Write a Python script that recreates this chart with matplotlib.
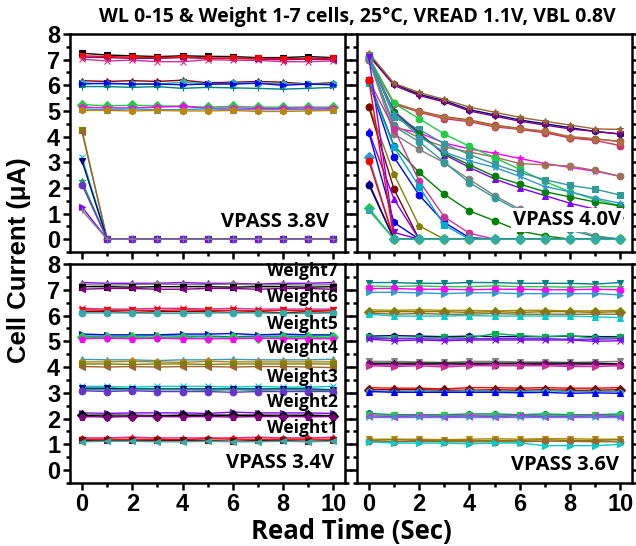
#%% Importing libraries

import numpy as np
import matplotlib
matplotlib.use('Agg')
from matplotlib import pyplot as plt
from matplotlib.ticker import MultipleLocator

#%% Data (cell current in uA vs read time in s)

t = [0, 1, 2, 3, 4, 5, 6, 7, 8, 9, 10]

# VPASS 3.8V : weights 5-7 stay, weights 1-4 collapse after the first read
cells_38 = [
    [7.25, 7.18, 7.15, 7.12, 7.15, 7.13, 7.12, 7.08, 7.08, 7.12, 7.08],
    [7.10, 7.08, 7.05, 7.05, 7.08, 7.05, 7.05, 7.02, 7.00, 7.02, 7.00],
    [7.02, 6.95, 6.98, 6.92, 6.92, 7.00, 6.98, 6.97, 6.92, 6.92, 6.95],
    [7.15, 7.12, 7.10, 7.08, 7.10, 7.06, 7.06, 7.05, 7.04, 7.04, 7.05],
    [6.18, 6.15, 6.18, 6.15, 6.20, 6.10, 6.12, 6.15, 6.12, 6.05, 6.10],
    [6.10, 6.05, 6.05, 6.05, 6.12, 6.05, 6.08, 6.08, 6.05, 6.05, 6.05],
    [6.05, 6.08, 6.05, 6.05, 6.02, 6.05, 6.05, 6.08, 6.00, 6.05, 6.02],
    [5.95, 5.95, 5.92, 5.95, 5.88, 5.92, 5.90, 5.88, 5.85, 5.88, 5.92],
    [5.25, 5.20, 5.22, 5.20, 5.18, 5.15, 5.18, 5.15, 5.15, 5.15, 5.15],
    [5.15, 5.12, 5.12, 5.15, 5.18, 5.10, 5.12, 5.10, 5.10, 5.12, 5.10],
    [5.08, 5.05, 5.08, 5.05, 5.05, 5.08, 5.05, 5.05, 5.05, 5.05, 5.05],
    [5.02, 5.02, 5.00, 5.02, 5.00, 5.00, 5.02, 4.98, 4.98, 5.00, 5.02],
    [4.25, 0, 0, 0, 0, 0, 0, 0, 0, 0, 0],
    [4.18, 0, 0, 0, 0, 0, 0, 0, 0, 0, 0],
    [3.20, 0, 0, 0, 0, 0, 0, 0, 0, 0, 0],
    [3.05, 0, 0, 0, 0, 0, 0, 0, 0, 0, 0],
    [2.25, 0, 0, 0, 0, 0, 0, 0, 0, 0, 0],
    [2.12, 0, 0, 0, 0, 0, 0, 0, 0, 0, 0],
    [1.25, 0, 0, 0, 0, 0, 0, 0, 0, 0, 0],
    [1.12, 0, 0, 0, 0, 0, 0, 0, 0, 0, 0],
]

# VPASS 4.0V : decay of the cells
cells_40 = [
    [7.20, 6.05, 5.65, 5.40, 5.05, 4.85, 4.65, 4.50, 4.35, 4.20, 4.10],
    [7.15, 6.00, 5.60, 5.35, 5.00, 4.80, 4.60, 4.45, 4.30, 4.20, 4.10],
    [7.25, 6.08, 5.72, 5.45, 5.15, 4.95, 4.75, 4.60, 4.45, 4.30, 4.28],
    [7.10, 5.30, 5.00, 4.78, 4.65, 4.45, 4.32, 4.20, 3.95, 3.90, 3.82],
    [7.05, 5.28, 4.95, 4.70, 4.58, 4.38, 4.28, 4.15, 3.95, 3.85, 3.65],
    [7.00, 5.32, 4.98, 4.75, 4.62, 4.42, 4.30, 4.22, 4.00, 3.92, 3.80],
    [7.05, 4.35, 4.15, 3.75, 3.52, 3.35, 3.15, 2.95, 2.80, 2.65, 2.45],
    [7.00, 4.45, 3.95, 3.60, 3.40, 3.20, 2.95, 2.90, 2.85, 2.68, 2.45],
    [7.10, 5.30, 4.70, 4.10, 3.62, 3.18, 2.72, 2.25, 1.85, 1.55, 1.30],
    [7.15, 4.75, 4.28, 3.72, 3.30, 2.92, 2.60, 2.32, 2.10, 1.95, 1.72],
    [7.05, 5.00, 4.15, 3.30, 2.80, 2.35, 2.00, 1.70, 1.40, 1.17, 0.95],
    [7.00, 4.95, 4.10, 3.35, 2.90, 2.45, 2.15, 1.85, 1.65, 1.45, 1.30],
    [7.10, 4.90, 4.00, 3.40, 3.05, 2.80, 2.45, 2.05, 1.85, 1.60, 1.40],
    [7.00, 4.10, 3.50, 2.98, 2.33, 1.70, 1.17, 0.80, 0.45, 0.13, 0.00],
    [7.10, 4.40, 3.80, 3.00, 2.20, 1.62, 1.10, 0.70, 0.35, 0.10, 0.00],
    [6.20, 3.65, 2.60, 1.75, 1.10, 0.72, 0.32, 0.13, 0.00, 0.00, 0.00],
    [6.15, 3.20, 1.72, 0.65, 0.06, 0.00, 0.00, 0.00, 0.00, 0.00, 0.00],
    [6.20, 4.30, 2.27, 0.87, 0.23, 0.00, 0.00, 0.00, 0.00, 0.00, 0.00],
    [6.10, 3.60, 2.05, 0.55, 0.00, 0.00, 0.00, 0.00, 0.00, 0.00, 0.00],
    [5.20, 2.53, 0.52, 0.00, 0.00, 0.00, 0.00, 0.00, 0.00, 0.00, 0.00],
    [5.15, 1.95, 0.00, 0.00, 0.00, 0.00, 0.00, 0.00, 0.00, 0.00, 0.00],
    [4.20, 1.56, 0.00, 0.00, 0.00, 0.00, 0.00, 0.00, 0.00, 0.00, 0.00],
    [4.15, 0.65, 0.00, 0.00, 0.00, 0.00, 0.00, 0.00, 0.00, 0.00, 0.00],
    [7.10, 0.26, 0.00, 0.00, 0.00, 0.00, 0.00, 0.00, 0.00, 0.00, 0.00],
    [6.20, 0.00, 0.00, 0.00, 0.00, 0.00, 0.00, 0.00, 0.00, 0.00, 0.00],
    [3.20, 0.00, 0.00, 0.00, 0.00, 0.00, 0.00, 0.00, 0.00, 0.00, 0.00],
    [3.05, 0.00, 0.00, 0.00, 0.00, 0.00, 0.00, 0.00, 0.00, 0.00, 0.00],
    [2.20, 0.00, 0.00, 0.00, 0.00, 0.00, 0.00, 0.00, 0.00, 0.00, 0.00],
    [2.12, 0.00, 0.00, 0.00, 0.00, 0.00, 0.00, 0.00, 0.00, 0.00, 0.00],
    [1.22, 0.00, 0.00, 0.00, 0.00, 0.00, 0.00, 0.00, 0.00, 0.00, 0.00],
    [1.12, 0.00, 0.00, 0.00, 0.00, 0.00, 0.00, 0.00, 0.00, 0.00, 0.00],
]

# VPASS 3.4V : all seven weights stable
cells_34 = [
    [7.28, 7.25, 7.25, 7.25, 7.28, 7.25, 7.25, 7.22, 7.25, 7.25, 7.28],
    [7.20, 7.18, 7.20, 7.22, 7.20, 7.20, 7.22, 7.18, 7.20, 7.18, 7.20],
    [7.12, 7.12, 7.10, 7.12, 7.12, 7.12, 7.10, 7.12, 7.12, 7.10, 7.12],
    [7.02, 7.05, 7.05, 7.02, 7.02, 7.05, 7.05, 7.02, 7.05, 7.05, 7.02],
    [6.28, 6.25, 6.25, 6.28, 6.28, 6.25, 6.28, 6.25, 6.25, 6.25, 6.25],
    [6.22, 6.20, 6.20, 6.20, 6.22, 6.20, 6.20, 6.18, 6.20, 6.18, 6.20],
    [6.15, 6.15, 6.12, 6.15, 6.15, 6.15, 6.12, 6.15, 6.10, 6.15, 6.12],
    [6.10, 6.10, 6.10, 6.08, 6.08, 6.10, 6.10, 6.10, 6.08, 6.08, 6.10],
    [5.28, 5.25, 5.25, 5.25, 5.28, 5.28, 5.30, 5.25, 5.28, 5.25, 5.25],
    [5.20, 5.20, 5.20, 5.22, 5.20, 5.20, 5.18, 5.20, 5.20, 5.20, 5.22],
    [5.15, 5.15, 5.15, 5.15, 5.15, 5.12, 5.15, 5.12, 5.15, 5.15, 5.15],
    [5.10, 5.12, 5.10, 5.12, 5.10, 5.10, 5.10, 5.12, 5.10, 5.10, 5.10],
    [4.30, 4.28, 4.28, 4.25, 4.28, 4.28, 4.30, 4.28, 4.28, 4.28, 4.30],
    [4.20, 4.20, 4.22, 4.20, 4.18, 4.22, 4.20, 4.20, 4.20, 4.20, 4.20],
    [4.12, 4.12, 4.10, 4.12, 4.12, 4.10, 4.12, 4.12, 4.12, 4.12, 4.12],
    [4.02, 4.00, 4.02, 4.00, 4.02, 4.02, 4.00, 4.02, 4.02, 4.00, 3.98],
    [3.25, 3.25, 3.22, 3.25, 3.25, 3.25, 3.22, 3.25, 3.22, 3.22, 3.25],
    [3.18, 3.18, 3.15, 3.15, 3.15, 3.15, 3.15, 3.15, 3.15, 3.15, 3.12],
    [3.12, 3.12, 3.12, 3.12, 3.12, 3.10, 3.12, 3.10, 3.12, 3.10, 3.10],
    [3.08, 3.05, 3.08, 3.05, 3.05, 3.05, 3.02, 3.05, 3.05, 3.05, 3.05],
    [2.22, 2.20, 2.22, 2.22, 2.22, 2.20, 2.25, 2.22, 2.22, 2.22, 2.20],
    [2.18, 2.15, 2.15, 2.12, 2.15, 2.15, 2.15, 2.15, 2.15, 2.15, 2.12],
    [2.12, 2.10, 2.10, 2.10, 2.12, 2.12, 2.12, 2.12, 2.10, 2.12, 2.10],
    [2.08, 2.06, 2.08, 2.08, 2.07, 2.08, 2.06, 2.08, 2.08, 2.07, 2.08],
    [1.25, 1.25, 1.28, 1.25, 1.25, 1.25, 1.25, 1.28, 1.25, 1.25, 1.28],
    [1.20, 1.20, 1.20, 1.20, 1.18, 1.22, 1.20, 1.20, 1.20, 1.20, 1.20],
    [1.15, 1.15, 1.15, 1.15, 1.15, 1.15, 1.12, 1.15, 1.15, 1.12, 1.15],
    [1.10, 1.12, 1.12, 1.10, 1.10, 1.12, 1.10, 1.10, 1.12, 1.10, 1.12],
]

# VPASS 3.6V : all seven weights stable
cells_36 = [
    [7.28, 7.28, 7.25, 7.25, 7.28, 7.28, 7.25, 7.25, 7.25, 7.22, 7.28],
    [7.15, 7.12, 7.15, 7.12, 7.12, 7.15, 7.12, 7.12, 7.10, 7.12, 7.12],
    [7.05, 7.05, 7.02, 7.02, 7.00, 7.02, 7.02, 7.00, 7.00, 7.02, 7.00],
    [6.90, 6.90, 6.88, 6.85, 6.88, 6.88, 6.85, 6.85, 6.85, 6.85, 6.80],
    [6.22, 6.20, 6.22, 6.20, 6.20, 6.18, 6.20, 6.20, 6.18, 6.18, 6.20],
    [6.15, 6.15, 6.15, 6.15, 6.12, 6.15, 6.12, 6.15, 6.15, 6.12, 6.15],
    [6.10, 6.05, 6.08, 6.05, 6.05, 6.08, 6.05, 6.05, 6.05, 6.05, 6.05],
    [6.05, 5.98, 5.98, 5.98, 6.00, 5.98, 5.98, 5.98, 5.98, 5.95, 5.92],
    [5.20, 5.22, 5.20, 5.18, 5.20, 5.18, 5.18, 5.18, 5.20, 5.18, 5.18],
    [5.15, 5.12, 5.12, 5.15, 5.12, 5.30, 5.22, 5.18, 5.22, 5.12, 5.15],
    [5.12, 5.10, 5.10, 5.08, 5.10, 5.10, 5.10, 5.10, 5.08, 5.08, 5.10],
    [5.08, 5.02, 5.05, 5.02, 5.05, 5.05, 5.05, 5.05, 5.05, 5.00, 5.02],
    [4.22, 4.22, 4.20, 4.18, 4.22, 4.22, 4.20, 4.20, 4.18, 4.20, 4.22],
    [4.15, 4.15, 4.15, 4.15, 4.15, 4.15, 4.15, 4.15, 4.15, 4.15, 4.12],
    [4.10, 4.08, 4.10, 4.08, 4.10, 4.08, 4.08, 4.10, 4.08, 4.10, 4.08],
    [4.05, 4.02, 4.05, 4.00, 4.05, 4.05, 4.05, 4.05, 4.02, 4.02, 4.05],
    [3.20, 3.18, 3.18, 3.15, 3.20, 3.20, 3.18, 3.20, 3.18, 3.18, 3.20],
    [3.12, 3.12, 3.12, 3.10, 3.10, 3.12, 3.10, 3.12, 3.10, 3.10, 3.12],
    [3.08, 3.05, 3.08, 3.05, 3.08, 3.05, 3.05, 3.08, 3.05, 3.05, 3.05],
    [3.05, 3.02, 3.02, 3.02, 3.02, 3.02, 3.00, 3.02, 2.98, 3.00, 2.98],
    [2.20, 2.15, 2.15, 2.15, 2.18, 2.18, 2.15, 2.18, 2.15, 2.15, 2.18],
    [2.15, 2.12, 2.12, 2.12, 2.12, 2.12, 2.12, 2.12, 2.12, 2.12, 2.12],
    [2.10, 2.08, 2.10, 2.08, 2.10, 2.08, 2.10, 2.08, 2.08, 2.10, 2.08],
    [2.05, 2.05, 2.05, 2.05, 2.05, 2.05, 2.05, 2.05, 2.05, 2.05, 2.05],
    [1.20, 1.20, 1.20, 1.18, 1.20, 1.22, 1.20, 1.22, 1.22, 1.20, 1.20],
    [1.15, 1.18, 1.15, 1.15, 1.15, 1.15, 1.15, 1.18, 1.15, 1.15, 1.18],
    [1.12, 1.10, 1.12, 1.10, 1.10, 1.10, 1.10, 1.12, 1.12, 1.10, 1.10],
    [1.10, 1.05, 1.05, 1.05, 1.02, 1.05, 1.05, 0.95, 0.95, 0.95, 1.00],
]

weight_names = ['Weight7', 'Weight6', 'Weight5', 'Weight4', 'Weight3', 'Weight2', 'Weight1']
weight_label_y = [7.72, 6.70, 5.68, 4.72, 3.62, 2.66, 1.64]

panel_labels = ['VPASS 3.8V', 'VPASS 4.0V', 'VPASS 3.4V', 'VPASS 3.6V']

#%% Style

colors = ['#000000', '#FF0000', '#0000FF', '#FF00FF', '#808000', '#000080',
          '#8000FF', '#800080', '#800000', '#008080', '#3399CC', '#996633',
          '#00B050', '#808080', '#CC3399', '#33AAAA', '#22CC44', '#B8860B',
          '#00CCCC', '#6633CC']
markers = ['s', 'o', '^', 'v', 'D', '<', '>', 'h', '*', 'p', 'x', '+']

# colours of the decaying traces (VPASS 4.0V), picked to follow the figure
colors_40 = ['#000080', '#800080', '#996633', '#A0522D', '#CC3366', '#B07040',
             '#FF00FF', '#A0705A', '#22CC44', '#339999', '#8000FF', '#008000',
             '#3399CC', '#808080', '#339999', '#008000', '#0000FF', '#CC3399',
             '#00AACC', '#808000', '#800000', '#8000FF', '#0000FF', '#8000FF',
             '#FF0000', '#3399CC', '#FF0000', '#800080', '#000080', '#22CC44',
             '#33AAAA']
markers_40 = ['h', 'v', '*', 'o', 'o', 'p', '*', 'o', 'o', 's', '^', 'o',
              '*', 'o', 'o', 'o', 'o', 'o', 's', 'p', 'o', '^', 'h', 'v',
              's', 'D', 'o', '^', 'o', 'D', 's']

txt_font = ['Open Sans', 'DejaVu Sans']
num_font = ['Liberation Sans', 'DejaVu Sans']

fig = plt.figure(figsize=(6.36, 5.46), dpi=100)

rects = [[0.110, 0.5385, 0.4325, 0.3992],
         [0.561, 0.5385, 0.4327, 0.3992],
         [0.110, 0.1154, 0.4325, 0.4011],
         [0.561, 0.1154, 0.4327, 0.4011]]
datasets = [cells_38, cells_40, cells_34, cells_36]
label_pos = [(9.85, 0.68), (10.02, 0.74), (10.04, 0.27), (9.94, 0.20)]

axes = []
for k in range(4):
    ax = fig.add_axes(rects[k])
    axes.append(ax)
    for i, row in enumerate(datasets[k]):
        if k == 1:
            c = colors_40[i % len(colors_40)]
            m = markers_40[i % len(markers_40)]
        else:
            c = colors[(i * 7 + k * 3) % len(colors)]
            m = markers[(i * 5 + k) % len(markers)]
        ax.plot(t, row, '-', color=c, marker=m, markersize=4.8, lw=1.0,
                markeredgewidth=0.8, mfc=c, mec=c)

    ax.set_xlim(-0.48, 10.47)
    ax.set_ylim(-0.5, 8)
    ax.xaxis.set_major_locator(MultipleLocator(2))
    ax.xaxis.set_minor_locator(MultipleLocator(1))
    ax.yaxis.set_major_locator(MultipleLocator(1))
    ax.yaxis.set_minor_locator(MultipleLocator(0.5))
    ax.tick_params(which='both', direction='out', width=1.8, top=False,
                   right=True, labelsize=17, pad=2)
    ax.tick_params(which='major', length=5)
    ax.tick_params(which='minor', length=3)
    for s in ax.spines.values():
        s.set_linewidth(1.8)
    if k < 2:
        ax.tick_params(labelbottom=False)
    if k % 2 == 1:
        ax.tick_params(labelleft=False)
    for lab in ax.get_xticklabels() + ax.get_yticklabels():
        lab.set_fontweight('bold')
        lab.set_family(num_font)

    lx, ly = label_pos[k]
    bbox = None
    if k == 1:
        bbox = dict(facecolor='white', edgecolor='none', pad=1.5)
    ax.text(lx, ly, panel_labels[k], ha='right', va='center', fontsize=14.5,
            fontweight='bold', family=txt_font, bbox=bbox, zorder=5)

for name, yv in zip(weight_names, weight_label_y):
    axes[2].text(10.2, yv, name, ha='right', va='center', fontsize=12.5,
                 fontweight='bold', family=txt_font, zorder=5)

fig.text(0.562, 0.9597, 'WL 0-15 & Weight 1-7 cells, 25°C, VREAD 1.1V, VBL 0.8V',
         ha='center', va='baseline', fontsize=14, fontweight='bold', family=txt_font)
fig.text(0.030, 0.523, 'Cell Current (μA)', rotation=90, ha='center', va='center',
         fontsize=18.5, fontweight='bold', family=num_font)
fig.text(0.553, 0.0125, 'Read Time (Sec)', ha='center', va='baseline',
         fontsize=18.5, fontweight='bold', family=txt_font)

plt.savefig('out.png', dpi=100)
